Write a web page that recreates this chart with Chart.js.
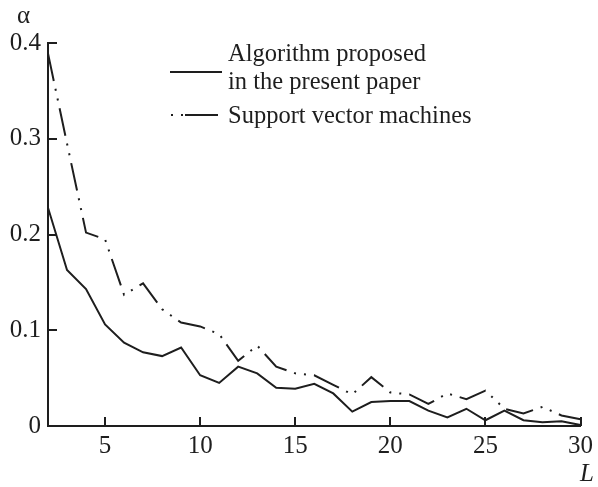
<!DOCTYPE html>
<html><head><meta charset="utf-8">
<script src="https://cdn.jsdelivr.net/npm/chart.js@4.4.1/dist/chart.umd.min.js"></script>
<style>html,body{margin:0;padding:0;background:#fff}</style>
</head><body>
<canvas id="c" width="598" height="487"></canvas>
<script>
const L    = [2, 3, 4, 5, 6, 7, 8, 9, 10, 11, 12, 13, 14, 15, 16, 17, 18, 19, 20, 21, 22, 23, 24, 25, 26, 27, 28, 29, 30];
const algo = [0.228, 0.163, 0.143, 0.106, 0.087, 0.077, 0.073, 0.082, 0.053, 0.045, 0.062, 0.055, 0.040, 0.039, 0.044, 0.034, 0.015, 0.025, 0.026, 0.026, 0.016, 0.009, 0.018, 0.006, 0.016, 0.006, 0.004, 0.005, 0.001];
const svm  = [0.389, 0.295, 0.202, 0.195, 0.137, 0.149, 0.122, 0.108, 0.104, 0.096, 0.068, 0.084, 0.062, 0.055, 0.053, 0.043, 0.033, 0.051, 0.035, 0.033, 0.023, 0.034, 0.028, 0.037, 0.018, 0.013, 0.020, 0.011, 0.007];
const xTicks = [5, 10, 15, 20, 25, 30];
const yTicks = [0, 0.1, 0.2, 0.3, 0.4];
const seriesLabels = [["Algorithm proposed", "in the present paper"], ["Support vector machines"]];
const xTitle = "L";
const yTitle = "\u03B1";

const INK = '#1e1e1e';
const FONT = '"Liberation Serif", "DejaVu Serif", serif';
const FS = 25;
const LFS = 24.5;
const DASH = [28, 8, 2, 8, 2, 8];

const pts = arr => arr.map((v, i) => ({x: L[i], y: v}));

const decor = {
  id: 'decor',
  afterDraw(chart) {
    const ctx = chart.ctx, xs = chart.scales.x, ys = chart.scales.y;
    const a = chart.chartArea;
    ctx.save();
    ctx.strokeStyle = INK; ctx.lineWidth = 2; ctx.lineCap = 'butt';
    // inward ticks
    xTicks.forEach(v => {
      const px = Math.round(xs.getPixelForValue(v));
      ctx.beginPath(); ctx.moveTo(px, a.bottom); ctx.lineTo(px, a.bottom - 9); ctx.stroke();
    });
    yTicks.forEach(v => {
      if (v === 0) return;
      const py = Math.round(ys.getPixelForValue(v));
      ctx.beginPath(); ctx.moveTo(a.left, py); ctx.lineTo(a.left + 9, py); ctx.stroke();
    });
    // axis titles
    ctx.fillStyle = INK;
    ctx.font = FS + 'px ' + FONT;
    ctx.textAlign = 'left'; ctx.textBaseline = 'alphabetic';
    ctx.fillText(yTitle, 17, 23);
    ctx.font = 'italic ' + FS + 'px ' + FONT;
    ctx.fillText(xTitle, 580, 481);
    // legend
    ctx.font = LFS + 'px ' + FONT;
    ctx.fillText(seriesLabels[0][0], 228, 61);
    ctx.fillText(seriesLabels[0][1], 228, 89);
    ctx.fillText(seriesLabels[1][0], 228, 123);
    ctx.beginPath(); ctx.moveTo(170, 72); ctx.lineTo(222, 72); ctx.stroke();
    ctx.setLineDash([2, 8, 2, 2, 33]);
    ctx.beginPath(); ctx.moveTo(171, 115); ctx.lineTo(218, 115); ctx.stroke();
    ctx.restore();
  }
};

new Chart(document.getElementById('c'), {
  type: 'line',
  data: {
    datasets: [
      {label: seriesLabels[0].join(' '), data: pts(algo), borderColor: INK, borderWidth: 2, pointRadius: 0, tension: 0, fill: false},
      {label: seriesLabels[1].join(' '), data: pts(svm), borderColor: INK, borderWidth: 2, borderDash: DASH, pointRadius: 0, tension: 0, fill: false}
    ]
  },
  options: {
    responsive: false,
    animation: false,
    events: [],
    layout: {padding: {top: 43, right: 13, left: 0, bottom: 0}},
    plugins: {legend: {display: false}, tooltip: {enabled: false}},
    scales: {
      x: {
        type: 'linear', min: 2, max: 30,
        afterBuildTicks: s => { s.ticks = xTicks.map(v => ({value: v})); },
        afterFit: s => { s.height = 61; },
        grid: {display: false, drawTicks: false},
        border: {display: true, color: INK, width: 2},
        ticks: {color: INK, font: {family: FONT, size: FS}, padding: 5, maxRotation: 0, autoSkip: false, callback: v => String(v)}
      },
      y: {
        type: 'linear', min: 0, max: 0.4,
        afterBuildTicks: s => { s.ticks = yTicks.map(v => ({value: v})); },
        afterFit: s => { s.width = 48; },
        grid: {display: false, drawTicks: false},
        border: {display: true, color: INK, width: 2},
        ticks: {color: INK, font: {family: FONT, size: FS}, padding: 7, autoSkip: false, callback: v => v === 0 ? '0' : (Math.round(v * 10) / 10).toString()}
      }
    }
  },
  plugins: [decor]
});
</script>
</body></html>
